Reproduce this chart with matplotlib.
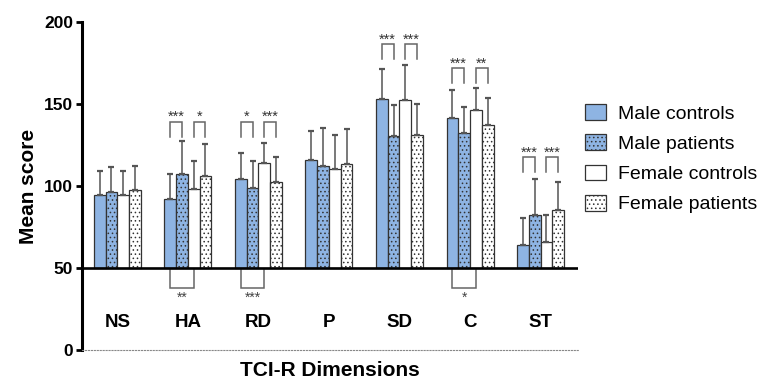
import matplotlib
matplotlib.use('Agg')
import matplotlib.pyplot as plt
import numpy as np
from matplotlib.patches import Patch

plt.rcParams['font.family'] = ['Liberation Sans', 'DejaVu Sans']
plt.rcParams['hatch.linewidth'] = 0.6
plt.rcParams['hatch.color'] = '#333333'

categories = ['NS', 'HA', 'RD', 'P', 'SD', 'C', 'ST']
series_names = ['Male controls', 'Male patients', 'Female controls', 'Female patients']

male_controls = [94.5, 91.9, 104.1, 115.7, 153.3, 141.3, 64.0]
male_patients = [96.1, 107.2, 99.0, 112.0, 130.3, 132.1, 82.5]
female_controls = [94.5, 98.2, 114.0, 110.6, 152.2, 146.3, 66.0]
female_patients = [97.4, 106.1, 102.6, 113.4, 130.9, 137.0, 85.4]

male_controls_sd = [14.8, 15.2, 15.8, 18.0, 18.0, 17.2, 16.3]
male_patients_sd = [15.7, 20.2, 16.2, 23.6, 19.3, 15.9, 21.8]
female_controls_sd = [14.6, 17.2, 12.4, 20.5, 21.8, 13.3, 16.3]
female_patients_sd = [15.0, 19.3, 15.3, 21.2, 19.3, 16.5, 16.9]

# within-sex comparisons (category index, bar a, bar b, label)
sig_top = [(1, 0, 1, '***'), (1, 2, 3, '*'), (2, 0, 1, '*'), (2, 2, 3, '***'),
           (4, 0, 1, '***'), (4, 2, 3, '***'), (5, 0, 1, '***'), (5, 2, 3, '**'),
           (6, 0, 1, '***'), (6, 2, 3, '***')]
sig_top_level = {1: 130.0, 2: 130.0, 4: 177.3, 5: 162.6, 6: 108.5}
# between-sex comparisons of controls (category index, label)
sig_bottom = [(1, '**'), (2, '***'), (5, '*')]

means = [male_controls, male_patients, female_controls, female_patients]
sds = [male_controls_sd, male_patients_sd, female_controls_sd, female_patients_sd]
blue = '#8EB4E3'
faces = [blue, blue, 'white', 'white']
hatches = [None, '....', None, '....']
baseline = 50

fig = plt.figure(figsize=(7.71, 3.82), dpi=100)
ax = fig.add_axes([82 / 771, 1 - 350 / 382, (578 - 82) / 771, (350 - 22) / 382])

w = 1 / 6
xc = np.arange(len(categories))
for j in range(4):
    xs = xc + (j - 1.5) * w
    h = np.array(means[j]) - baseline
    ax.bar(xs, h, width=w, bottom=baseline, color=faces[j], hatch=hatches[j],
           edgecolor='#333333', linewidth=0.9, zorder=2)
    line, caps, bars = ax.errorbar(xs, means[j], yerr=[np.zeros(len(xs)), sds[j]],
                                   fmt='none', ecolor='#555555', elinewidth=1.1,
                                   capsize=2.2, capthick=1.6, zorder=3)
    for c in caps:
        c.set_color('#111111')

def barx(i, j):
    return i + (j - 1.5) * w

lc = '#666666'
for (i, a, b, lab) in sig_top:
    y0 = sig_top_level[i]
    y1 = y0 + 9.2
    x0, x1 = barx(i, a), barx(i, b)
    ax.plot([x0, x0, x1, x1], [y0, y1, y1, y0], color=lc, lw=1.1, zorder=3,
            clip_on=False, solid_joinstyle='miter')
    ax.text((x0 + x1) / 2, y1 + 0.3, lab, ha='center', va='baseline',
            fontsize=10.5, color='#333333')

for (i, lab) in sig_bottom:
    x0, x1 = barx(i, 0), barx(i, 2)
    y0, y1 = 48.8, 37.6
    ax.plot([x0, x0, x1, x1], [y0, y1, y1, y0], color=lc, lw=1.1, zorder=3,
            solid_joinstyle='miter')
    ax.text((x0 + x1) / 2, y1 - 8.0, lab, ha='center', va='baseline',
            fontsize=10, color='#444444')

# thick baseline at 50
ax.axhline(baseline, color='black', lw=1.9, zorder=4)

for i, cat in enumerate(categories):
    ax.text(i, 16.5, cat, ha='center', va='center', fontsize=13.5, fontweight='bold')

ax.set_xlim(-0.5, 6.53)
ax.set_ylim(0, 200)
ax.set_yticks([0, 50, 100, 150, 200])
ax.set_xticks([])
for lab in ax.get_yticklabels():
    lab.set_fontweight('bold')
ax.tick_params(axis='y', labelsize=12.5, width=2, length=4.5, pad=2)
ax.spines['top'].set_visible(False)
ax.spines['right'].set_visible(False)
ax.spines['left'].set_linewidth(2.2)
ax.spines['bottom'].set_linestyle(':')
ax.spines['bottom'].set_color('#888888')
ax.spines['bottom'].set_linewidth(0.8)

ax.set_ylabel('Mean score', fontsize=15, fontweight='bold', labelpad=4)
ax.set_xlabel('TCI-R Dimensions', fontsize=15, fontweight='bold', labelpad=8)

handles = [Patch(facecolor=faces[j], edgecolor='#333333', hatch=hatches[j], linewidth=0.9)
           for j in range(4)]
fig.legend(handles, series_names, loc='upper left', bbox_to_anchor=(585 / 771, 1 - 104 / 382),
           frameon=False, fontsize=14, handlelength=1.08, handleheight=0.87,
           handletextpad=0.62, labelspacing=0.6, borderpad=0, borderaxespad=0)

fig.savefig('out.png', dpi=100)
